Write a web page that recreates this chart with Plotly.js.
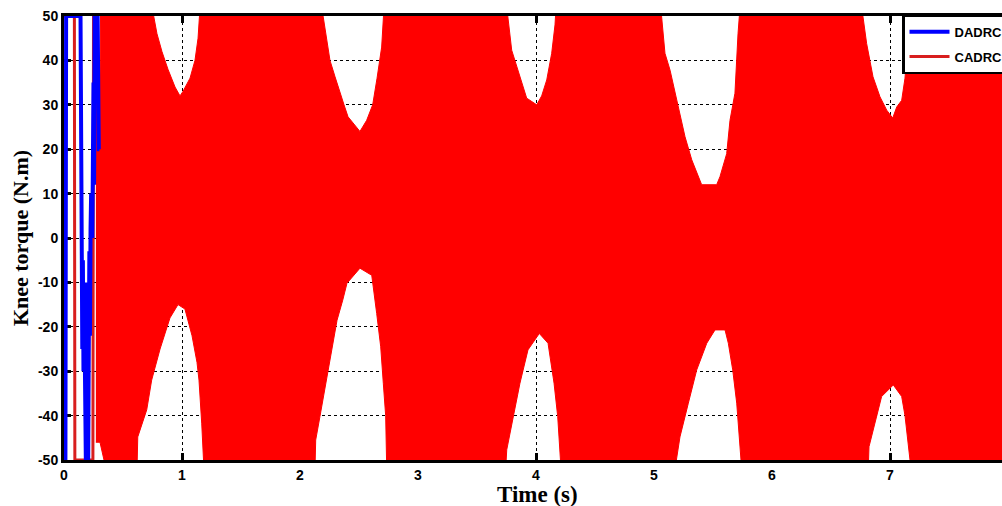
<!DOCTYPE html>
<html>
<head>
<meta charset="utf-8">
<script src="https://cdn.plot.ly/plotly-3.0.1.min.js"></script>
<style>html,body{margin:0;padding:0;background:#fff;overflow:hidden;width:1002px;height:506px;}#chart{width:1060px;height:506px;}</style>
</head>
<body>
<div id="chart"></div>
<script>
// DADRC early transient (time s, torque N.m)
var dadrcT = [0.012, 0.016, 0.018, 0.14, 0.142, 0.145, 0.15, 0.155, 0.16, 0.165, 0.17, 0.175, 0.18, 0.185, 0.19, 0.195, 0.2, 0.205, 0.21, 0.215, 0.22, 0.225, 0.23, 0.24, 0.25, 0.255, 0.26, 0.27, 0.285, 0.295, 0.3];
var dadrcY = [-50, 50, 50, 50, 30, 8, -3, -25, -5, -30, -10, -33, -50, -50, -20, -35, -10, -50, -25, -3, -22, 2, 10, 0, 35, 12, 50, 50, 50, 20, 20];

// CADRC early transient
var cadrcT0 = [0.0, 0.088, 0.092, 0.245, 0.25, 0.27];
var cadrcY0 = [50, 50, -50, -50, 50, 35];

// CADRC oscillation envelope (upper)
var upperT = [0.27, 0.305, 0.31, 0.746, 0.788, 0.83, 0.881, 0.941, 0.983, 1.008, 1.068, 1.11, 1.136, 1.153,
  2.184, 2.226, 2.254, 2.297, 2.339, 2.373, 2.407, 2.508, 2.565, 2.616, 2.653, 2.692, 2.712,
  3.752, 3.794, 3.839, 3.89, 3.921, 4.006, 4.048, 4.091, 4.133, 4.161, 4.17,
  5.057, 5.093, 5.136, 5.178, 5.22, 5.263, 5.32, 5.373, 5.404, 5.531, 5.559, 5.616, 5.644, 5.686, 5.701, 5.712, 5.729,
  6.76, 6.802, 6.856, 6.915, 6.972, 7.023, 7.057, 7.099, 7.127, 7.153, 7.17, 7.97];
var upperY = [35, 36, 52, 52, 46, 42, 38, 34, 32, 33, 36, 40, 45, 52,
  52, 44.6, 40, 36.3, 32.6, 30, 27.3, 24, 26.5, 30, 36, 43, 52,
  52, 42.3, 38.6, 34, 31.5, 30, 32, 35.6, 41.6, 48, 52,
  52, 41.6, 37.8, 32.6, 28, 22.8, 17.6, 13.8, 12, 12, 13.8, 19, 26.5, 32.6, 41.6, 46, 52,
  52, 43.8, 36.3, 31.8, 28.8, 27, 29.5, 31, 36, 45, 52, 52];

// CADRC oscillation envelope (lower)
var lowerT = [0.27, 0.288, 0.305, 0.356, 0.619, 0.625, 0.669, 0.701, 0.743, 0.814, 0.898, 0.966, 1.025, 1.085, 1.127, 1.144, 1.167, 1.186,
  2.127, 2.133, 2.169, 2.203, 2.237, 2.269, 2.314, 2.362, 2.398, 2.508, 2.608, 2.65, 2.684, 2.706, 2.726, 2.735,
  3.743, 3.752, 3.805, 3.864, 3.932, 4.028, 4.102, 4.153, 4.184, 4.212,
  5.178, 5.22, 5.291, 5.362, 5.447, 5.517, 5.602, 5.63, 5.667, 5.701, 5.743,
  6.816, 6.822, 6.856, 6.929, 7.028, 7.099, 7.127, 7.153, 7.178, 7.97];
var lowerY = [-46, -46, -46, -52, -52, -44.8, -41.4, -38.7, -32, -25, -18, -15, -16, -22, -28, -32, -41.7, -52,
  -52, -45.5, -40.2, -35, -29.7, -25.2, -18.5, -14, -10.2, -6.8, -8.4, -17, -24.5, -32.7, -40, -52,
  -52, -47.7, -40.2, -32.7, -25.2, -21.5, -23.7, -32.7, -40.2, -52,
  -52, -44.8, -37.2, -29.7, -23.7, -20.7, -20.7, -23.7, -29.7, -37.2, -52,
  -52, -47, -43.2, -35.7, -33.1, -35.7, -40, -46, -52, -52];

var xTicks = [0, 1, 2, 3, 4, 5, 6, 7];
var yTicks = [-50, -40, -30, -20, -10, 0, 10, 20, 30, 40, 50];

var RED = '#ff0000';
var BLUE = '#0000ff';

var traces = [
  {x: upperT, y: upperY, type: 'scatter', mode: 'lines', line: {color: RED, width: 1}, showlegend: false, hoverinfo: 'skip'},
  {x: lowerT, y: lowerY, type: 'scatter', mode: 'lines', line: {color: RED, width: 1}, fill: 'tonexty', fillcolor: RED, showlegend: false, hoverinfo: 'skip'},
  {x: cadrcT0, y: cadrcY0, type: 'scatter', mode: 'lines', name: 'CADRC', legendgroup: 'b', legendrank: 2, line: {color: '#d81e1e', width: 3}},
  {x: dadrcT, y: dadrcY, type: 'scatter', mode: 'lines', name: 'DADRC', legendgroup: 'a', legendrank: 1, line: {color: BLUE, width: 4}}
];

var axisCommon = {
  showline: true, linecolor: '#000', linewidth: 3,
  ticks: 'inside', ticklen: 7, tickwidth: 3, tickcolor: '#000',
  showgrid: true, gridcolor: '#000', gridwidth: 1, griddash: 'dot',
  zeroline: false, layer: 'below traces',
  tickfont: {family: 'Liberation Sans, Arial, sans-serif', size: 14, color: '#000', weight: 'bold'}
};

// plot area: left 64 px, 118 px per second; drawn wider than the window and cropped like the source
var plotW = 996;
var layout = {
  width: 1060, height: 506,
  margin: {l: 64, r: 0, t: 16, b: 46},
  paper_bgcolor: '#fff', plot_bgcolor: '#fff',
  showlegend: true,
  xaxis: Object.assign({}, axisCommon, {
    mirror: 'ticks',
    range: [0, plotW / 118], tickmode: 'array', tickvals: xTicks, ticktext: xTicks.map(String)
  }),
  yaxis: Object.assign({}, axisCommon, {
    mirror: false,
    range: [-50, 50], tickmode: 'array', tickvals: yTicks, ticktext: yTicks.map(String),
    title: {text: 'Knee torque (N.m)', font: {family: 'Liberation Serif, Times New Roman, serif', size: 22, color: '#000', weight: 'bold'}, standoff: 4}
  }),
  annotations: [{
    text: 'Time (s)', xref: 'paper', yref: 'paper', x: (537 - 64) / plotW, y: -0.077,
    xanchor: 'center', yanchor: 'middle', showarrow: false,
    font: {family: 'Liberation Serif, Times New Roman, serif', size: 23, color: '#000', weight: 'bold'}
  }],
  legend: {
    x: (902 - 64) / plotW, xanchor: 'left', y: 1.004, yanchor: 'top',
    bgcolor: '#fff', bordercolor: '#000', borderwidth: 2.5,
    font: {family: 'Liberation Sans, Arial, sans-serif', size: 13, color: '#000', weight: 'bold'},
    traceorder: 'grouped', tracegroupgap: 5, itemwidth: 40
  }
};

Plotly.newPlot('chart', traces, layout, {staticPlot: true, displayModeBar: false});
</script>
</body>
</html>
